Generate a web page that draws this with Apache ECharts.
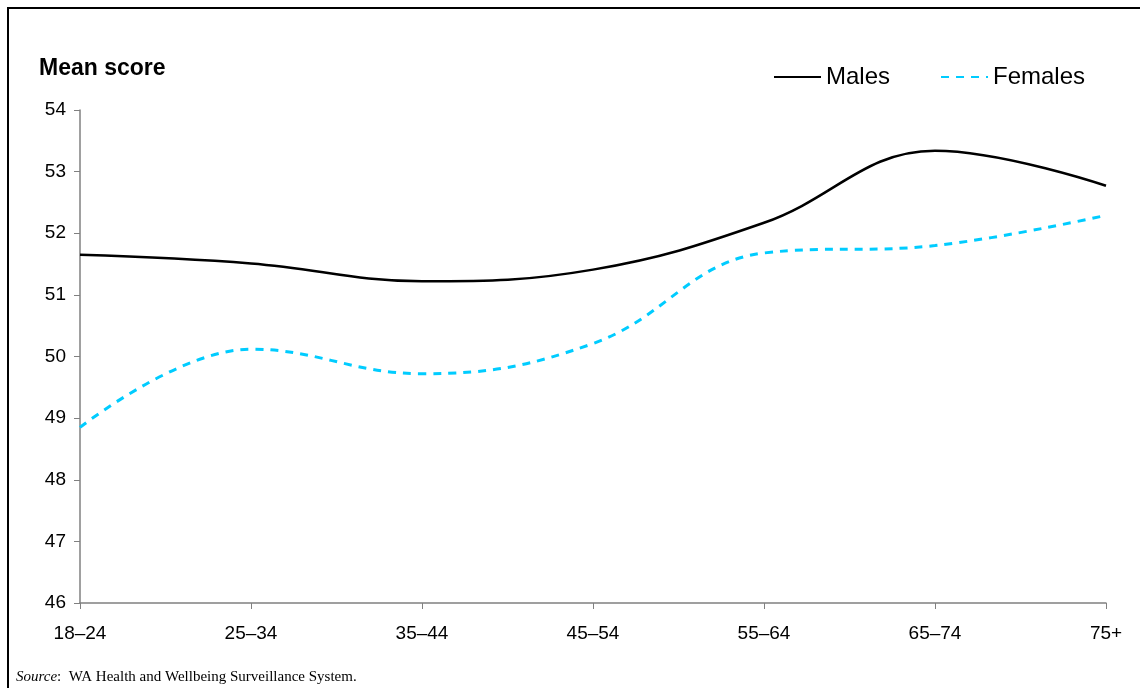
<!DOCTYPE html>
<html>
<head>
<meta charset="utf-8">
<script src="https://cdn.jsdelivr.net/npm/echarts@6/dist/echarts.min.js"></script>
<style>
  html, body { margin: 0; padding: 0; background: #fff; }
  #frame { position: absolute; left: 7px; top: 7px; width: 1140px; height: 688px;
           border-top: 2px solid #000; border-left: 2px solid #000; }
  #box { position: absolute; left: 0; top: 0; width: 1140px; height: 688px; }
</style>
</head>
<body>
<div id="frame"></div>
<div id="box"></div>
<script>
var ageGroups = ['18–24', '25–34', '35–44', '45–54', '55–64', '65–74', '75+'];
var males = [51.65, 51.51, 51.22, 51.41, 52.17, 53.34, 52.77];
var females = [48.85, 50.12, 49.72, 50.21, 51.68, 51.80, 52.29];

var myChart = echarts.init(document.getElementById('box'));

var option = {
  animation: false,
  textStyle: { fontFamily: 'Liberation Sans, Arial, sans-serif' },
  title: {
    text: 'Mean score',
    left: 34,
    top: 52,
    textStyle: { fontSize: 23, fontWeight: 'bold', color: '#000' }
  },
  legend: {
    left: 768,
    top: 60,
    itemWidth: 47,
    itemHeight: 14,
    itemGap: 50,
    data: ['Males', 'Females'],
    itemStyle: { opacity: 0 },
    textStyle: { fontSize: 24, color: '#000' }
  },
  grid: {
    left: 80,
    right: 34,
    top: 110,
    bottom: 85
  },
  xAxis: {
    type: 'category',
    boundaryGap: false,
    data: ageGroups,
    axisLine: { lineStyle: { color: '#808080', width: 1.5 } },
    axisTick: { alignWithLabel: true, length: 6, lineStyle: { color: '#808080' } },
    axisLabel: { fontSize: 19, color: '#000', margin: 21 },
    splitLine: { show: false }
  },
  yAxis: {
    type: 'value',
    min: 46,
    max: 54,
    interval: 1,
    axisLine: { show: true, lineStyle: { color: '#808080', width: 1.5 } },
    axisTick: { show: true, length: 6, lineStyle: { color: '#808080' } },
    axisLabel: { fontSize: 19, color: '#000', margin: 14 },
    splitLine: { show: false }
  },
  graphic: [{
    type: 'text',
    left: 16,
    top: 670,
    style: {
      text: '{i|Source}:  WA Health and Wellbeing Surveillance System.',
      font: '15px "Liberation Serif", "Times New Roman", serif',
      fill: '#000',
      rich: {
        i: { fontStyle: 'italic', fontSize: 15, fontFamily: 'Liberation Serif' }
      }
    }
  }],
  series: [
    {
      name: 'Males',
      type: 'line',
      smooth: 0.4,
      symbol: 'none',
      data: males,
      lineStyle: { color: '#000', width: 2.5 },
      itemStyle: { color: '#000' }
    },
    {
      name: 'Females',
      type: 'line',
      smooth: 0.4,
      symbol: 'none',
      data: females,
      lineStyle: { color: '#00ccff', width: 3, type: [8, 7] },
      itemStyle: { color: '#00ccff' }
    }
  ]
};
myChart.setOption(option);
</script>
</body>
</html>
